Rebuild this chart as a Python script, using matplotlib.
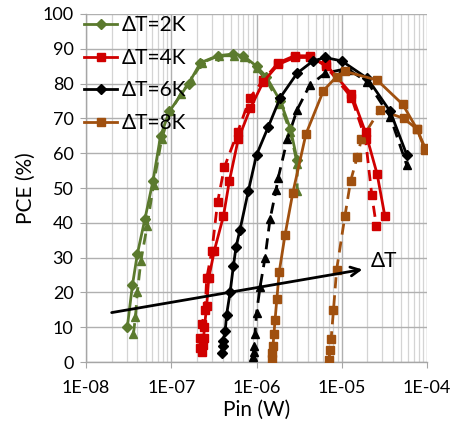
import matplotlib
matplotlib.use("Agg")
import matplotlib.pyplot as plt
from matplotlib.ticker import FuncFormatter, LogLocator, MultipleLocator

plt.rcParams['font.family'] = ['Lato', 'DejaVu Sans']

# dT = 2K
p2_solid = [3.05e-8, 3.5e-8, 4.0e-8, 4.9e-8, 6.1e-8, 7.5e-8, 9.5e-8, 1.6e-7, 2.2e-7,
            3.5e-7, 5.3e-7, 7.0e-7, 1.0e-6, 1.3e-6, 1.9e-6, 2.5e-6, 3.0e-6]
pce2_solid = [10, 22, 31, 41, 52, 65, 72, 80, 86, 88, 88.5, 88, 85, 82, 75, 67, 58]
p2_dash = [3.6e-8, 3.8e-8, 4.0e-8, 4.4e-8, 5.2e-8, 6.2e-8, 7.7e-8, 9.7e-8, 1.3e-7, 1.7e-7,
           2.3e-7, 3.6e-7, 5.4e-7, 7.2e-7, 1.0e-6, 1.3e-6, 1.9e-6, 2.5e-6, 3.0e-6, 3.0e-6]
pce2_dash = [8, 13, 20, 29, 39, 51, 64, 72, 77, 81, 86, 88, 88, 87.5, 84.5, 81, 74, 66, 57, 49]

# dT = 4K
p4_solid = [2.3e-7, 2.35e-7, 2.4e-7, 2.45e-7, 2.6e-7, 2.75e-7, 3.2e-7, 4.1e-7, 4.8e-7, 6.1e-7,
            8.5e-7, 1.2e-6, 1.8e-6, 2.8e-6, 4.2e-6, 6.5e-6, 1.3e-5, 1.9e-5, 2.6e-5, 3.2e-5]
pce4_solid = [3, 5, 7, 10, 16, 24, 32, 42, 52, 64, 73, 80.5, 85.5, 87.5, 87.5, 85.5, 77, 66, 54, 42]
p4_dash = [2.15e-7, 2.2e-7, 2.3e-7, 2.5e-7, 2.6e-7, 3.0e-7, 3.5e-7, 4.2e-7, 6.0e-7, 8.4e-7,
           1.2e-6, 1.8e-6, 2.8e-6, 4.2e-6, 6.5e-6, 1.3e-5, 1.9e-5, 2.25e-5, 2.55e-5]
pce4_dash = [4, 7, 11, 15, 24, 32, 46, 56, 66, 76, 81, 86, 88, 88, 85, 76, 64, 48, 39]

# dT = 6K
p6_solid = [3.9e-7, 4.0e-7, 4.05e-7, 4.3e-7, 4.45e-7, 4.9e-7, 5.35e-7, 5.75e-7, 6.4e-7, 8.0e-7,
            1.0e-6, 1.37e-6, 1.9e-6, 3.0e-6, 4.6e-6, 6.4e-6, 1.0e-5, 2.0e-5, 3.7e-5, 5.8e-5]
pce6_solid = [2.5, 4.5, 6, 9, 13.5, 20, 27.5, 33, 38, 49, 59.5, 67.5, 76, 83, 86.5, 87.5, 86.5,
              81.5, 72, 59.5]
p6_dash = [9.2e-7, 9.3e-7, 9.4e-7, 9.6e-7, 1.0e-6, 1.1e-6, 1.26e-6, 1.44e-6, 1.7e-6, 1.8e-6,
           2.3e-6, 3.0e-6, 4.2e-6, 6.4e-6, 1.0e-5, 1.2e-5, 2.0e-5, 3.7e-5, 5.8e-5]
pce6_dash = [1.5, 3, 4.5, 8, 14, 21.5, 30, 41, 49.5, 53, 64, 72.5, 79.5, 83, 84, 84, 80.5, 70.5, 56.5]

# dT = 8K
p8_solid = [1.5e-6, 1.54e-6, 1.56e-6, 1.6e-6, 1.65e-6, 1.73e-6, 1.85e-6, 2.16e-6, 2.66e-6,
            3.8e-6, 6.1e-6, 8.7e-6, 1.1e-5, 2.6e-5, 5.2e-5, 7.6e-5, 9.5e-5]
pce8_solid = [1, 2.5, 4.5, 8, 12, 18, 26, 36.5, 48.5, 65.5, 78, 82, 83.5, 81, 74, 67, 61]
p8_dash = [7.1e-6, 7.25e-6, 7.5e-6, 8.0e-6, 8.7e-6, 1.09e-5, 1.27e-5, 1.52e-5, 1.7e-5, 2.8e-5,
           5.3e-5, 7.6e-5, 9.5e-5]
pce8_dash = [0.5, 3.5, 6.5, 15, 26.5, 42, 52, 59, 64, 72.5, 70, 67, 61.5]

labels = ['ΔT=2K', 'ΔT=4K', 'ΔT=6K', 'ΔT=8K']
colors = ['#5b7a2e', '#d00000', '#000000', '#a0500f']

# arrow showing direction of increasing dT
arrow_start = (2.0e-8, 14.2)
arrow_end = (1.75e-5, 26.6)
arrow_label_pos = (3.1e-5, 29.0)

fig = plt.figure(figsize=(4.51, 4.32), dpi=100)
ax = fig.add_axes([0.1907, 0.162, 0.7561, 0.8056])

series = [
    (p2_solid, pce2_solid, p2_dash, pce2_dash, 'D', '^'),
    (p4_solid, pce4_solid, p4_dash, pce4_dash, 's', 's'),
    (p6_solid, pce6_solid, p6_dash, pce6_dash, 'D', '^'),
    (p8_solid, pce8_solid, p8_dash, pce8_dash, 's', 's'),
]

for (xs, ys, xd, yd, ms, md), lab, c in zip(series, labels, colors):
    msize_s = 5 if ms == 'D' else 5.5
    msize_d = 5.5
    ax.plot(xd, yd, linestyle=(0, (4, 2.5)), color=c, lw=2, marker=md, ms=msize_d,
            zorder=3)
    ax.plot(xs, ys, linestyle='-', color=c, lw=2, marker=ms, ms=msize_s, label=lab,
            zorder=4)

ax.set_xscale('log')
ax.set_xlim(1e-8, 1e-4)
ax.set_ylim(0, 100)
ax.yaxis.set_major_locator(MultipleLocator(10))
ax.xaxis.set_major_locator(LogLocator(base=10, numticks=10))
ax.xaxis.set_minor_locator(LogLocator(base=10, subs=range(2, 10), numticks=20))
ax.xaxis.set_major_formatter(FuncFormatter(lambda v, _: f"{v:.0E}"))

ax.grid(True, which='major', color='#b0b0b0', lw=1.0)
ax.grid(True, which='minor', axis='x', color='#d4d4d4', lw=0.9)
ax.set_axisbelow(True)

for side in ['top', 'right']:
    ax.spines[side].set_visible(False)
for side in ['left', 'bottom']:
    ax.spines[side].set_color('#a6a6a6')
    ax.spines[side].set_linewidth(1.0)

ax.tick_params(which='major', length=4, color='#a6a6a6', labelsize=13, pad=5)
ax.tick_params(axis='x', which='major', pad=9)
ax.tick_params(which='minor', length=0)

ax.set_xlabel('Pin (W)', fontsize=15, labelpad=3)
ax.set_ylabel('PCE (%)', fontsize=15, labelpad=5)

ax.annotate('', xy=arrow_end, xytext=arrow_start,
            arrowprops=dict(arrowstyle='->', lw=2, color='black', mutation_scale=16,
                            shrinkA=0, shrinkB=0), zorder=6)
ax.text(arrow_label_pos[0], arrow_label_pos[1], 'ΔT', fontsize=15, ha='center', va='center')

leg = ax.legend(loc='upper left', bbox_to_anchor=(-0.03, 1.02), frameon=False, fontsize=15,
                handlelength=1.6, handletextpad=0.2, labelspacing=0.6, borderaxespad=0.0)

fig.savefig('out.png', dpi=100)
